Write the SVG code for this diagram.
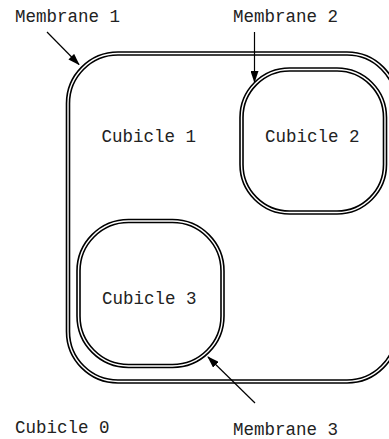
<svg xmlns="http://www.w3.org/2000/svg" width="389" height="439" viewBox="0 0 389 439">
<style>
.mb{fill:none;stroke:#000;stroke-width:4.6}
.mw{fill:none;stroke:#fff;stroke-width:1.4}
.t{font-family:"Liberation Mono","Courier New",monospace;font-size:17.5px;fill:#222}
.ar{stroke:#000;stroke-width:1.2;fill:none}
</style>
<defs>
<marker id="ah" markerWidth="12" markerHeight="8" refX="11" refY="4" orient="auto" markerUnits="userSpaceOnUse">
<path d="M0,0 L12,4 L0,8 Z" fill="#000"/>
</marker>
</defs>
<rect width="389" height="439" fill="#fff"/>
<g id="cubicle1">
<rect class="mb" x="68" y="53.5" width="329" height="328" rx="50"/>
<rect class="mw" x="68" y="53.5" width="329" height="328" rx="50"/>
<text class="t" x="101.5" y="142">Cubicle 1</text>
</g>
<g id="cubicle2">
<rect class="mb" x="241.5" y="69.5" width="143.5" height="143" rx="48"/>
<rect class="mw" x="241.5" y="69.5" width="143.5" height="143" rx="48"/>
<text class="t" x="265" y="142">Cubicle 2</text>
</g>
<g id="cubicle3">
<rect class="mb" x="78.5" y="221" width="144" height="145" rx="50"/>
<rect class="mw" x="78.5" y="221" width="144" height="145" rx="50"/>
<text class="t" x="102" y="304">Cubicle 3</text>
</g>
<g id="cubicle0">
<text class="t" x="15" y="433">Cubicle 0</text>
</g>
<g id="labels">
<text class="t" x="15" y="22">Membrane 1</text>
<text class="t" x="233" y="22">Membrane 2</text>
<text class="t" x="233" y="435">Membrane 3</text>
</g>
<g id="connectors">
<line class="ar" x1="47" y1="32" x2="79" y2="64.5" marker-end="url(#ah)"/>
<line class="ar" x1="254.5" y1="32" x2="254.5" y2="82" marker-end="url(#ah)"/>
<line class="ar" x1="255" y1="403" x2="208" y2="357" marker-end="url(#ah)"/>
</g>
</svg>
